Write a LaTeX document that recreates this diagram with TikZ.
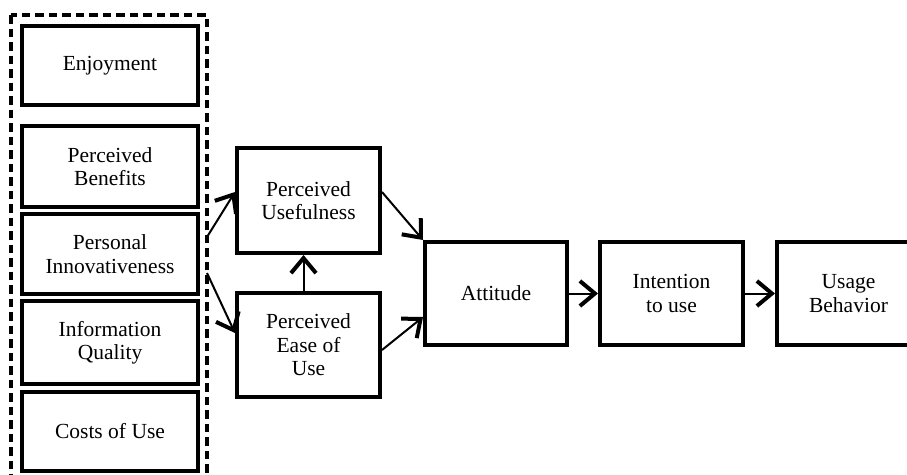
\documentclass[tikz,border=0pt]{standalone}
\usepackage{fontspec}
\setmainfont{Liberation Serif}
\usetikzlibrary{arrows.meta}
\tikzset{
  box/.style={draw, line width=4pt, minimum width=143pt, minimum height=104pt, align=center, font=\fontsize{21.5}{23.5}\selectfont, inner sep=0pt},
  lbox/.style={box, minimum width=176pt},
  arr/.style={line width=2pt, -{Straight Barb[length=15pt,width=25pt,line width=4pt]}},
  dashbox/.style={draw, line width=4pt, dash pattern=on 8.5pt off 5pt}
}
\begin{document}
\begin{tikzpicture}[x=1pt,y=-1pt]
\useasboundingbox (0,0) rectangle (907,474);
\clip (0,0) rectangle (907,474);
\draw[dashbox] (11,15) rectangle (207,490);
\node[lbox, minimum height=79pt] (enj) at (110,65.5) {Enjoyment};
\node[lbox, minimum height=81pt] (ben) at (110,166.5) {Perceived\\Benefits};
\node[lbox, minimum height=80pt] (inn) at (110,254) {Personal\\Innovativeness};
\node[lbox, minimum height=83pt] (iq) at (110,342.5) {Information\\Quality};
\node[lbox, minimum height=79pt] (cost) at (110,431.5) {Costs of Use};
\node[box, minimum height=105pt] (pu) at (308.5,200.5) {Perceived\\Usefulness};
\node[box] (peou) at (308.5,345) {Perceived\\Ease of\\Use};
\node[box, minimum width=142pt, minimum height=103pt] (att) at (496,293.5) {Attitude};
\node[box, minimum height=103pt] (int) at (671.5,293.5) {Intention\\to use};
\node[box, minimum height=103pt] (use) at (848.5,293.5) {Usage\\Behavior};
\coordinate (a1) at (207,237);
\coordinate (a2) at (207,273);
\draw[arr] (a1) -- ([yshift=8.5pt]pu.west);
\draw[arr] (a2) -- ([yshift=12pt]peou.west);
\draw[arr] ([xshift=-5pt]peou.north) -- ([xshift=-5pt]pu.south);
\draw[arr] ([yshift=8.5pt]pu.east) -- (att.north west);
\draw[arr] ([yshift=-5pt]peou.east) -- ([yshift=-23.5pt]att.west);
\draw[arr] (att.east) -- (int.west);
\draw[arr] (int.east) -- (use.west);
\end{tikzpicture}
\end{document}
